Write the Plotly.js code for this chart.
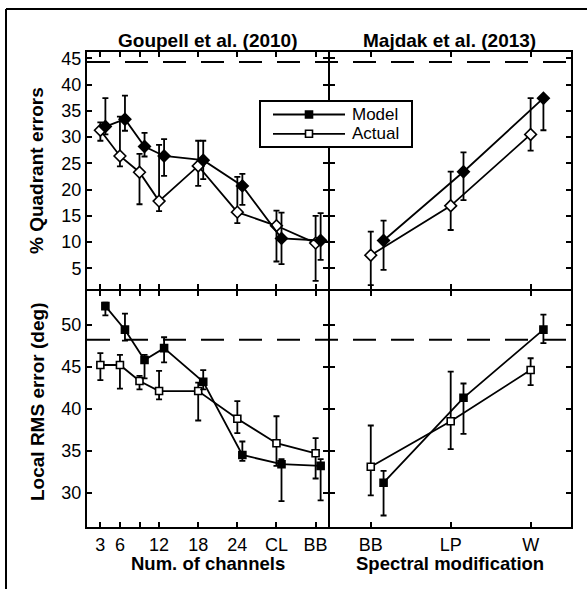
<!DOCTYPE html>
<html><head><meta charset="utf-8">
<script src="https://cdn.plot.ly/plotly-3.0.1.min.js"></script>
<style>html,body{margin:0;padding:0;background:#fff}#chart{width:587px;height:589px}</style>
</head><body><div id="chart"></div>
<script>
// ---------- data ----------
const channelPos = [3, 6, 9, 12, 18, 24, 30, 36];
const channelLabels = ['3', '6', '', '12', '18', '24', 'CL', 'BB'];
const spectralCats = ['BB', 'LP', 'W'];
const seriesNames = ['Model', 'Actual'];

// Goupell et al. (2010) – % quadrant errors
const qeModelG    = [32.0, 33.4, 28.2, 26.4, 25.6, 20.7, 10.7, 10.3];
const qeModelGHi  = [37.4, 37.9, 30.8, 29.6, 29.3, 23.0, 15.6, 15.5];
const qeModelGLo  = [30.5, 31.2, 26.3, 22.6, 22.0, 17.1, 5.8, 6.6];
const qeActualG   = [31.3, 26.4, 23.3, 17.8, 24.5, 15.7, 13.1, 9.8];
const qeActualGHi = [32.8, 33.9, 26.8, 28.5, 29.3, 22.4, 16.0, 15.0];
const qeActualGLo = [29.3, 24.4, 17.2, 15.9, 20.7, 13.6, 6.3, 2.6];

// Majdak et al. (2013) – % quadrant errors
const qeModelM    = [10.3, 23.4, 37.4];
const qeModelMHi  = [14.1, 27.1, 37.6];
const qeModelMLo  = [4.7, 18.0, 31.3];
const qeActualM   = [7.5, 16.9, 30.5];
const qeActualMHi = [12.0, 23.4, 37.4];
const qeActualMLo = [1.8, 12.3, 27.4];

// Goupell et al. (2010) – local RMS error (deg)
const rmsModelG    = [52.2, 49.4, 45.8, 47.2, 43.2, 34.5, 33.4, 33.2];
const rmsModelGHi  = [52.6, 51.3, 46.4, 48.5, 44.6, 36.1, 34.0, 34.0];
const rmsModelGLo  = [51.1, 48.1, 43.6, 45.5, 42.3, 33.8, 29.0, 29.1];
const rmsActualG   = [45.2, 45.2, 43.3, 42.1, 42.1, 38.8, 35.9, 34.7];
const rmsActualGHi = [46.6, 46.4, 43.9, 44.5, 43.1, 40.9, 39.1, 36.5];
const rmsActualGLo = [43.4, 42.4, 42.3, 41.1, 38.6, 37.1, 33.2, 31.7];

// Majdak et al. (2013) – local RMS error (deg)
const rmsModelM    = [31.2, 41.3, 49.4];
const rmsModelMHi  = [32.6, 43.0, 51.2];
const rmsModelMLo  = [27.3, 37.0, 47.8];
const rmsActualM   = [33.1, 38.5, 44.6];
const rmsActualMHi = [38.0, 44.4, 46.0];
const rmsActualMLo = [29.7, 35.2, 42.8];

// chance-level reference lines
const chanceLevels = [44.3, 48.2];

const quadTicks = [5, 10, 15, 20, 25, 30, 35, 40, 45];
const rmsTicks = [30, 35, 40, 45, 50];

// ---------- layout helpers ----------
const W = 587, H = 589;
const px = v => v / W;
const py = v => (H - v) / H;
const offLeft = 0.77, offRight = 0.16;
const spectralPos = spectralCats.map((c, i) => i + 1);

const FONT = 'Liberation Sans, Arial, Helvetica, sans-serif';

function errs(v, hi, lo) {
  return {type: 'data', symmetric: false,
    array: hi.map((h, i) => +(h - v[i]).toFixed(2)),
    arrayminus: lo.map((l, i) => +(v[i] - l).toFixed(2)),
    color: '#000', thickness: 1.8, width: 3};
}
function tr(x, y, hi, lo, xa, ya, filled, symbol, size, name) {
  return {x: x, y: y, xaxis: xa, yaxis: ya, type: 'scatter', mode: 'lines+markers',
    name: name, showlegend: false,
    line: {color: '#000', width: 1.8},
    marker: {symbol: symbol, size: size, color: filled ? '#000' : '#fff', line: {color: '#000', width: 1.6}},
    error_y: errs(y, hi, lo)};
}
const xl = channelPos, xlm = channelPos.map(v => v + offLeft);
const xr = spectralPos, xrm = spectralPos.map(v => v + offRight);

const data = [
  tr(xl, qeActualG, qeActualGHi, qeActualGLo, 'x', 'y', false, 'diamond', 9, seriesNames[1]),
  tr(xlm, qeModelG, qeModelGHi, qeModelGLo, 'x', 'y', true, 'diamond', 9, seriesNames[0]),
  tr(xr, qeActualM, qeActualMHi, qeActualMLo, 'x2', 'y2', false, 'diamond', 9, seriesNames[1]),
  tr(xrm, qeModelM, qeModelMHi, qeModelMLo, 'x2', 'y2', true, 'diamond', 9, seriesNames[0]),
  tr(xl, rmsActualG, rmsActualGHi, rmsActualGLo, 'x3', 'y3', false, 'square', 7, seriesNames[1]),
  tr(xlm, rmsModelG, rmsModelGHi, rmsModelGLo, 'x3', 'y3', true, 'square', 7, seriesNames[0]),
  tr(xr, rmsActualM, rmsActualMHi, rmsActualMLo, 'x4', 'y4', false, 'square', 7, seriesNames[1]),
  tr(xrm, rmsModelM, rmsModelMHi, rmsModelMLo, 'x4', 'y4', true, 'square', 7, seriesNames[0])
];

const xL = [px(87), px(328)], xR = [px(330), px(571)];
const yT = [py(289), py(52)], yB = [py(527), py(291)];

function ax(domain, anchor, range, tickvals, ticktext, labels) {
  const a = {domain: domain, anchor: anchor, range: range, tickvals: tickvals,
    showticklabels: labels, ticks: 'inside', ticklen: 5, tickwidth: 2, tickcolor: '#000',
    showline: true, linewidth: 2, linecolor: '#000', mirror: 'ticks',
    showgrid: false, zeroline: false, fixedrange: true,
    tickfont: {family: FONT, size: 18, color: '#000'}};
  if (ticktext) a.ticktext = ticktext;
  return a;
}
const rQ = [1.06, 46.2], rR = [25.93, 54.0], rXL = [0.95, 37.9], rXR = [0.49, 3.505];

// ---------- legend (box with line + marker samples) ----------
const legBox = {x0: 260, x1: 412, y0: 101, y1: 147};
const legRows = [114.5, 133.8];
const legShapes = [
  {type: 'rect', xref: 'paper', yref: 'paper', x0: px(legBox.x0), x1: px(legBox.x1), y0: py(legBox.y1), y1: py(legBox.y0),
   fillcolor: '#fff', line: {color: '#000', width: 2}, layer: 'above'}
];
const legAnn = [];
seriesNames.forEach((nm, i) => {
  const yy = legRows[i];
  legShapes.push({type: 'line', xref: 'paper', yref: 'paper', x0: px(273), x1: px(345), y0: py(yy), y1: py(yy),
    line: {color: '#000', width: 1.8}, layer: 'above'});
  legShapes.push({type: 'rect', xref: 'paper', yref: 'paper', x0: px(305.5), x1: px(312.5), y0: py(yy + 3.5), y1: py(yy - 3.5),
    fillcolor: i === 0 ? '#000' : '#fff', line: {color: '#000', width: 1.6}, layer: 'above'});
  legAnn.push({text: nm, xref: 'paper', yref: 'paper', x: px(351), y: py(yy), showarrow: false,
    xanchor: 'left', yanchor: 'middle', borderpad: 0, font: {family: FONT, size: 17, color: '#000'}});
});

const layout = {
  width: W, height: H, margin: {l: 0, r: 0, t: 0, b: 0},
  paper_bgcolor: '#fff', plot_bgcolor: '#fff',
  font: {family: FONT, color: '#000'},
  showlegend: false,
  xaxis:  ax(xL, 'y',  rXL, channelPos, channelLabels, false),
  yaxis:  ax(yT, 'x',  rQ, quadTicks, null, true),
  xaxis2: ax(xR, 'y2', rXR, spectralPos, spectralCats, false),
  yaxis2: ax(yT, 'x2', rQ, quadTicks, null, false),
  xaxis3: ax(xL, 'y3', rXL, channelPos, channelLabels, true),
  yaxis3: ax(yB, 'x3', rR, rmsTicks, null, true),
  xaxis4: ax(xR, 'y4', rXR, spectralPos, spectralCats, true),
  yaxis4: ax(yB, 'x4', rR, rmsTicks, null, false),
  shapes: [
    {type: 'line', xref: 'paper', yref: 'y', x0: px(87), x1: px(571), y0: chanceLevels[0], y1: chanceLevels[0],
     line: {color: '#000', width: 2, dash: '23px,15px'}, layer: 'below'},
    {type: 'line', xref: 'paper', yref: 'y3', x0: px(87), x1: px(571), y0: chanceLevels[1], y1: chanceLevels[1],
     line: {color: '#000', width: 2, dash: '23px,15px'}, layer: 'below'},
    {type: 'line', xref: 'paper', yref: 'paper', x0: px(6), x1: 1, y0: py(9), y1: py(9), line: {color: '#000', width: 2}},
    {type: 'line', xref: 'paper', yref: 'paper', x0: px(6), x1: px(6), y0: 0, y1: py(9), line: {color: '#000', width: 2}}
  ].concat(legShapes),
  annotations: [
    {text: '<b>Goupell et al. (2010)</b>', xref: 'paper', yref: 'paper', x: px(207.5), y: py(41), showarrow: false,
     xanchor: 'center', yanchor: 'middle', font: {family: FONT, size: 19, color: '#000'}},
    {text: '<b>Majdak et al. (2013)</b>', xref: 'paper', yref: 'paper', x: px(449.5), y: py(41), showarrow: false,
     xanchor: 'center', yanchor: 'middle', font: {family: FONT, size: 19, color: '#000'}},
    {text: '<b>Num. of channels</b>', xref: 'paper', yref: 'paper', x: px(207.5), y: py(563), showarrow: false,
     xanchor: 'center', yanchor: 'middle', font: {family: FONT, size: 18.5, color: '#000'}},
    {text: '<b>Spectral modification</b>', xref: 'paper', yref: 'paper', x: px(449.5), y: py(563), showarrow: false,
     xanchor: 'center', yanchor: 'middle', font: {family: FONT, size: 18.5, color: '#000'}},
    {text: '<b>% Quadrant errors</b>', xref: 'paper', yref: 'paper', x: px(37), y: py(170), showarrow: false,
     textangle: -90, xanchor: 'center', yanchor: 'middle', font: {family: FONT, size: 19, color: '#000'}},
    {text: '<b>Local RMS error (deg)</b>', xref: 'paper', yref: 'paper', x: px(37), y: py(402), showarrow: false,
     textangle: -90, xanchor: 'center', yanchor: 'middle', font: {family: FONT, size: 19, color: '#000'}}
  ].concat(legAnn)
};

Plotly.newPlot('chart', data, layout, {displayModeBar: false, staticPlot: true});
</script>
</body></html>
